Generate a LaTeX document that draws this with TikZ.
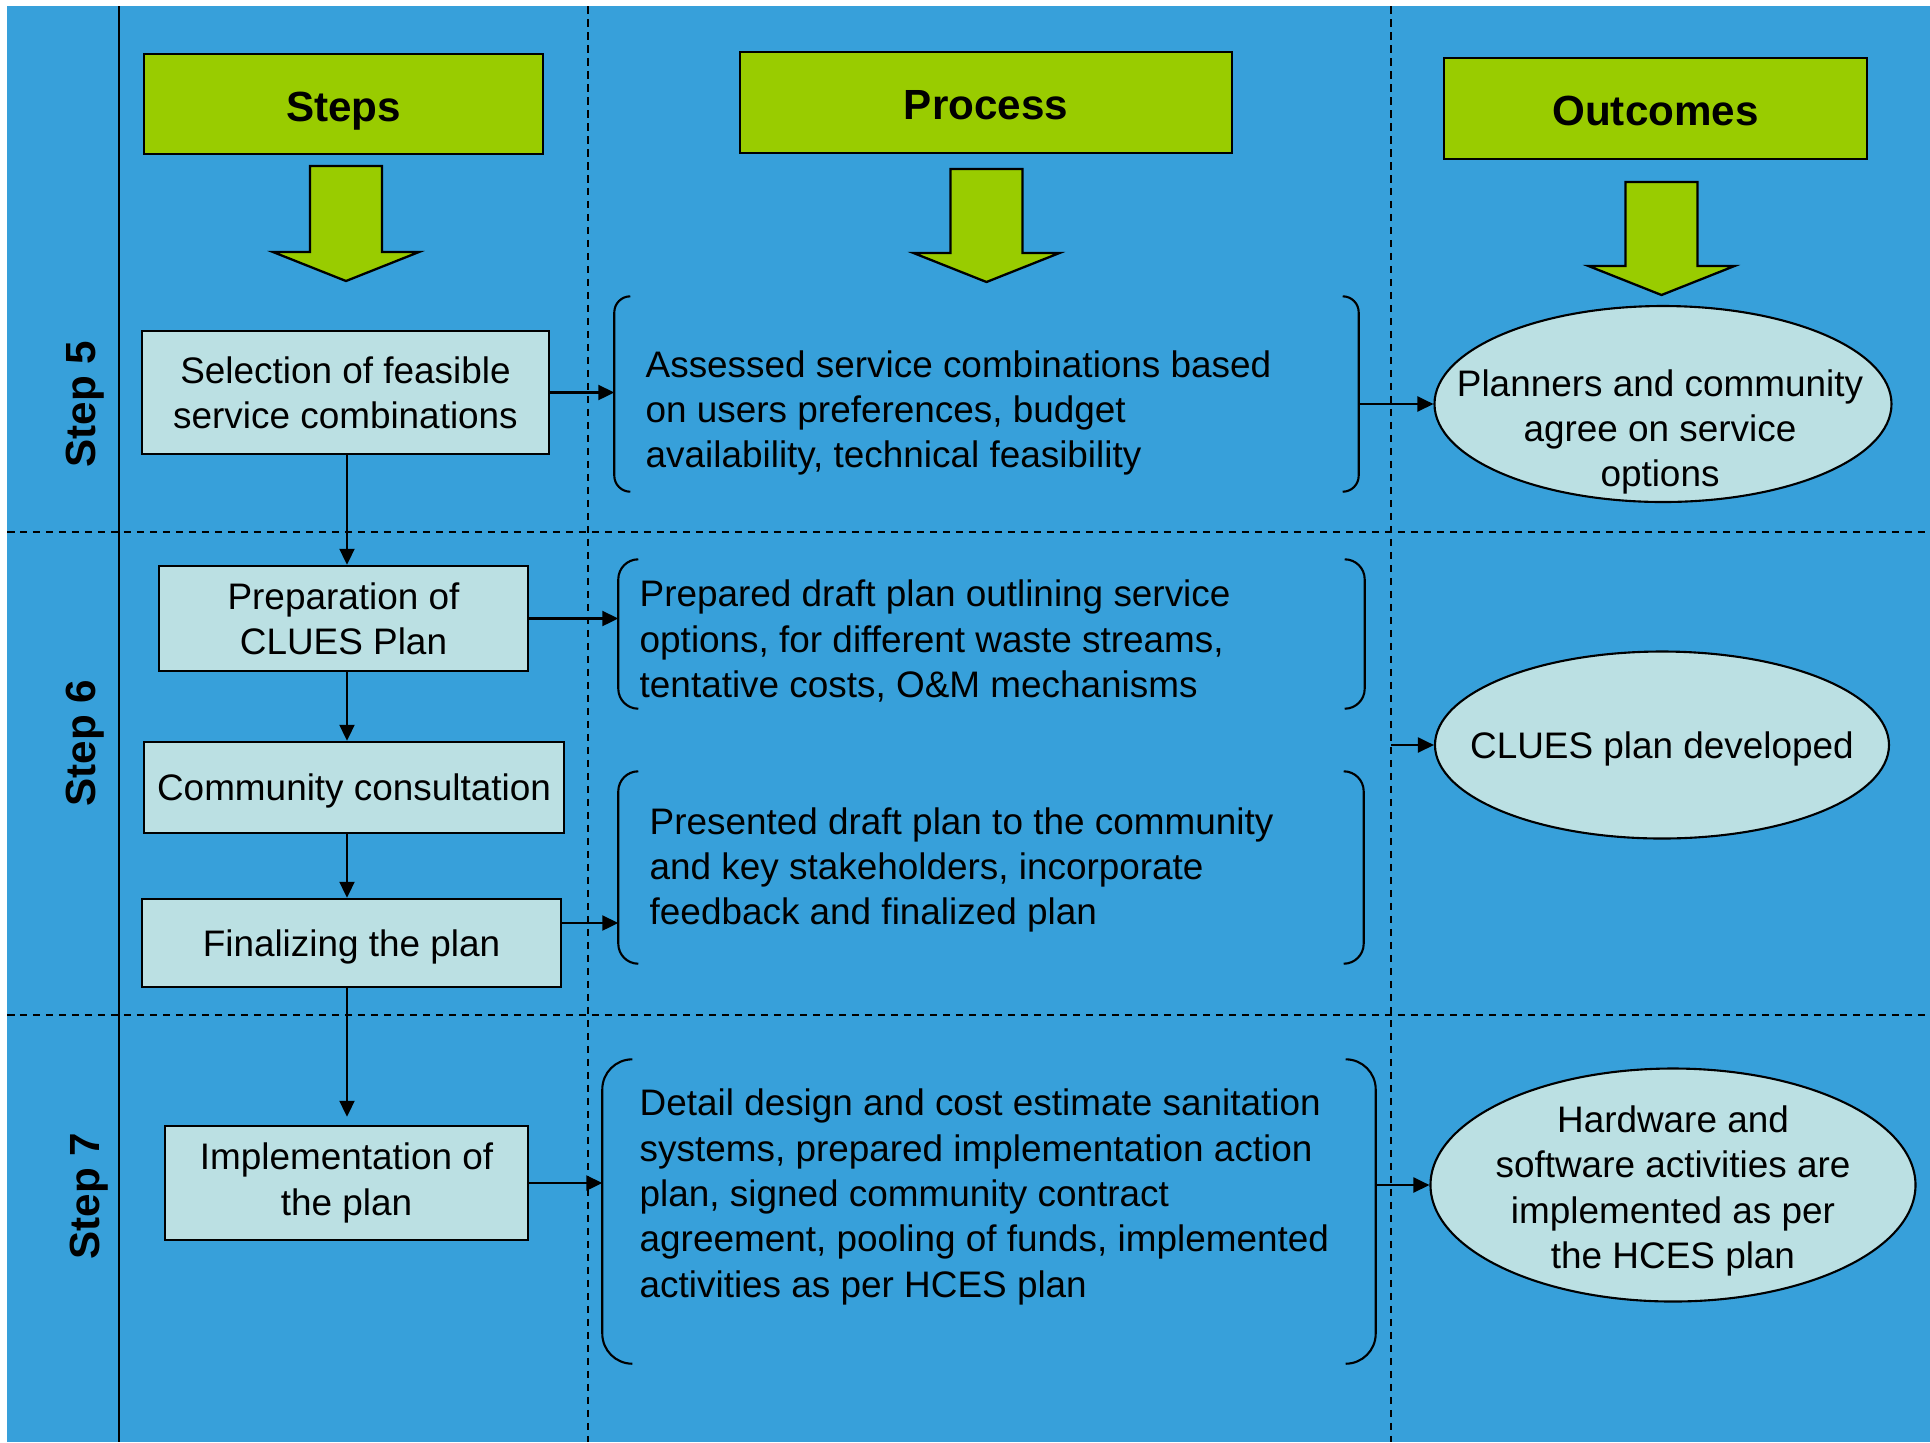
\documentclass[tikz,border=0pt]{standalone}
\usepackage{fontspec}
\setmainfont{Liberation Sans}
\usetikzlibrary{arrows.meta,shapes.geometric}
\definecolor{lanebg}{RGB}{55,160,218}
\definecolor{headgreen}{RGB}{153,204,0}
\definecolor{boxfill}{RGB}{187,224,227}
\def\greenarrow(#1:#2:#3){\draw[line width=0.65pt, fill=headgreen] (#1-0.36,#2) -- (#1+0.36,#2) -- (#1+0.36,#3+0.29) -- (#1+0.73,#3+0.29) -- (#1,#3) -- (#1-0.73,#3+0.29) -- (#1-0.36,#3+0.29) -- cycle;}
\def\bracketpair#1#2{\draw[line width=0.6pt, rounded corners=#2cm] ([xshift=#2cm]#1.north west) -- (#1.north west) -- (#1.south west) -- ([xshift=#2cm]#1.south west); \draw[line width=0.6pt, rounded corners=#2cm] ([xshift=-#2cm]#1.north east) -- (#1.north east) -- (#1.south east) -- ([xshift=-#2cm]#1.south east);}

\begin{document}
\begin{tikzpicture}[
		flow/.style={line width=0.6pt, -{Triangle[length=0.16cm, width=0.15cm]}},
		lane/.style={line width=0.45pt, dash pattern=on 0.075cm off 0.055cm},
		header/.style={draw, line width=0.7pt, fill=headgreen, font=\fontsize{12}{14}\selectfont\bfseries, inner sep=0pt, text height=0.34cm, text depth=0cm},
		stepbox/.style={draw, line width=0.7pt, fill=boxfill, font=\fontsize{10.5}{12.9}\selectfont, align=center, inner sep=0pt},
		oneline/.style={text height=0.3cm, text depth=0.034cm},
		bodytext/.style={font=\fontsize{10.5}{12.9}\selectfont, align=left, anchor=west, inner sep=0pt},
		outcome/.style={draw, ellipse, line width=0.6pt, fill=boxfill, inner sep=0pt},
		outtext/.style={font=\fontsize{10.5}{12.9}\selectfont, align=center, inner sep=0pt},
		steplabel/.style={rotate=90, font=\fontsize{12}{14}\selectfont\bfseries}
	]
			%%%%% START %%%%%
			\useasboundingbox (0, 0) rectangle (19.30, -14.42);
			\fill[lanebg] (0.07, -0.06) rectangle (19.30, -14.42);
			
			\draw[line width=0.6pt] (1.19, -0.06) -- (1.19, -14.42);
			\draw[lane] (5.88, -0.06) -- (5.88, -14.42);
			\draw[lane] (13.91, -0.06) -- (13.91, -14.42);
			\draw[lane] (0.07, -5.32) -- (19.30, -5.32);
			\draw[lane] (0.07, -10.15) -- (19.30, -10.15);
			\coordinate (lane3) at (13.91, 0);
			\coordinate (spine) at (3.47, 0);
			
			\node[steplabel] (l5) at (0.85, -4.04) {Step 5};
			\node[steplabel] (l6) at (0.85, -7.43) {Step 6};
			\node[steplabel] (l7) at (0.89, -11.96) {Step 7};
			
			\node[header, minimum width=3.99cm, minimum height=1.00cm] (hsteps) at (3.435, -1.04) {Steps};
			\node[header, minimum width=4.92cm, minimum height=1.01cm] (hprocess) at (9.86, -1.025) {Process};
			\node[header, minimum width=4.23cm, minimum height=1.01cm] (houtcomes) at (16.555, -1.085) {Outcomes};
			
			\greenarrow(3.46:-1.66:-2.81)
			\greenarrow(9.865:-1.69:-2.82)
			\greenarrow(16.615:-1.82:-2.95)
			
			\node[stepbox, minimum width=4.07cm, minimum height=1.23cm] (s1) at (3.455, -3.925) {Selection of feasible\\service combinations};
			\node[stepbox, minimum width=3.69cm, minimum height=1.05cm] (s2) at (3.435, -6.185) {Preparation of\\CLUES Plan};
			\node[stepbox, oneline, minimum width=4.20cm, minimum height=0.91cm] (s3) at (3.54, -7.875) {Community consultation};
			\node[stepbox, oneline, minimum width=4.19cm, minimum height=0.88cm] (s4) at (3.515, -9.43) {Finalizing the plan};
			\node[stepbox, minimum width=3.63cm, minimum height=1.14cm] (s5) at (3.465, -11.83) {Implementation of\\the plan};
			
			\draw[flow] (s1.south -| spine) -- (s2.north -| spine);
			\draw[flow] (s2.south -| spine) -- (s3.north -| spine);
			\draw[flow] (s3.south -| spine) -- (s4.north -| spine);
			\draw[flow] (s4.south -| spine) -- ([yshift=0.08cm]s5.north -| spine);
			
			\node[minimum width=7.43cm, minimum height=1.94cm] (b1) at (9.865, -3.94) {};
			\node[minimum width=7.45cm, minimum height=1.48cm] (b2) at (9.915, -6.34) {};
			\node[minimum width=7.44cm, minimum height=1.91cm] (b3) at (9.91, -8.675) {};
			\node[minimum width=7.72cm, minimum height=3.03cm] (b4) at (9.89, -12.115) {};
			\bracketpair{b1}{0.16}
			\bracketpair{b2}{0.2}
			\bracketpair{b3}{0.2}
			\bracketpair{b4}{0.3}
			
			\node[bodytext] (t1) at (6.45, -4.13) {Assessed service combinations based\\on users preferences, budget\\availability, technical feasibility};
			\node[bodytext] (t2) at (6.39, -6.41) {Prepared draft plan outlining service\\options, for different waste streams,\\tentative costs, O\&M mechanisms};
			\node[bodytext] (t3) at (6.49, -8.70) {Presented draft plan to the community\\and key stakeholders, incorporate\\feedback and finalized plan};
			\node[bodytext] (t4) at (6.39, -11.97) {Detail design and cost estimate sanitation\\systems, prepared implementation action\\plan, signed community contract\\agreement, pooling of funds, implemented\\activities as per HCES plan};
			
			\coordinate (f4) at ([yshift=0.2cm]s4.east);
			\draw[flow] (s1.east) -- (s1.east -| b1.west);
			\draw[flow] (s2.east) -- (s2.east -| b2.west);
			\draw[flow] (f4) -- (f4 -| b3.west);
			\draw[flow] (s5.east) -- (s5.east -| b4.west);
			
			\node[outcome, minimum width=4.57cm, minimum height=1.96cm] (e1) at (16.63, -4.04) {};
			\node[outcome, minimum width=4.54cm, minimum height=1.87cm] (e2) at (16.62, -7.45) {};
			\node[outcome, minimum width=4.85cm, minimum height=2.33cm] (e3) at (16.73, -11.85) {};
			\node[outtext] (e1t) at (16.60, -4.32) {Planners and community\\agree on service\\options};
			\node[outtext] (e2t) at (16.62, -7.49) {CLUES plan developed};
			\node[outtext] (e3t) at (16.73, -11.91) {Hardware and\\software activities are\\implemented as per\\the HCES plan};
			
			\draw[flow] (e1.west -| b1.east) -- (e1.west);
			\draw[flow] (e2.west -| lane3) -- (e2.west);
			\draw[flow] (e3.west -| b4.east) -- (e3.west);
			%%%%% END %%%%%
\end{tikzpicture}
\end{document}
